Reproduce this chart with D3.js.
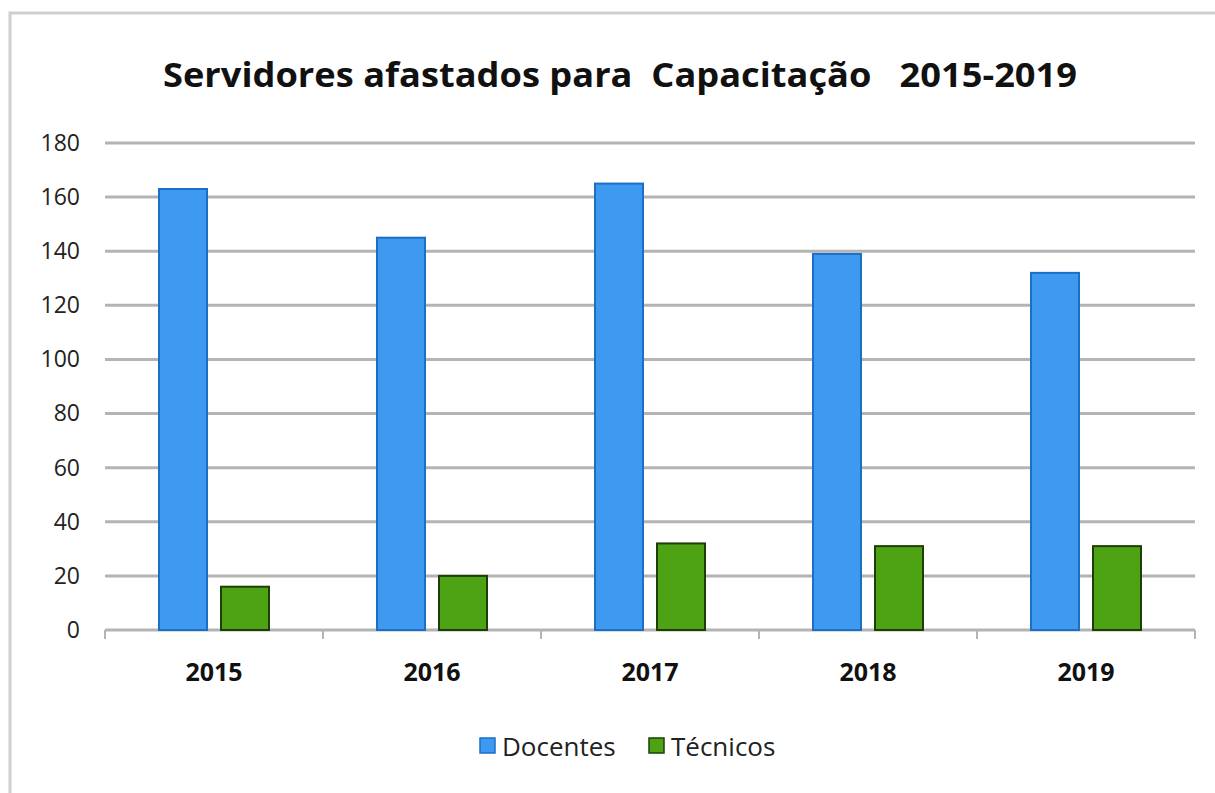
<!DOCTYPE html>
<html>
<head>
<meta charset="utf-8">
<script src="https://cdn.jsdelivr.net/npm/d3@7"></script>
<style>
  body { margin: 0; background: #fff; }
  svg { display: block; }
  .grid line { stroke: #b4b4b4; stroke-width: 3; }
  .y-axis text { font-family: "Open Sans", sans-serif; font-size: 23px; fill: #222; }
  .x-axis text { font-family: "Open Sans", sans-serif; font-size: 25px; font-weight: bold; fill: #111; }
</style>
</head>
<body>
<div id="chart"></div>
<script>
// data
const years = ["2015", "2016", "2017", "2018", "2019"];
const docentes = [163, 145, 165, 139, 132];
const tecnicos = [16, 20, 32, 31, 31];
const seriesNames = ["Docentes", "Técnicos"];
const yTicks = [0, 20, 40, 60, 80, 100, 120, 140, 160, 180];

const W = 1215, H = 793;
const margin = {top: 143, right: 20, bottom: 163, left: 105};
const width = W - margin.left - margin.right;
const height = H - margin.top - margin.bottom;

const svg = d3.select("#chart").append("svg")
    .attr("width", W)
    .attr("height", H);

// outer border
svg.append("rect")
    .attr("x", 10).attr("y", 13)
    .attr("width", W + 20).attr("height", H + 20)
    .attr("fill", "none")
    .attr("stroke", "#cfcfcf")
    .attr("stroke-width", 3);

// title
svg.append("text")
    .attr("x", 620).attr("y", 87)
    .attr("text-anchor", "middle")
    .attr("font-family", "Open Sans, sans-serif")
    .attr("font-weight", "bold")
    .attr("font-size", 34)
    .attr("fill", "#111")
    .attr("textLength", 914)
    .attr("lengthAdjust", "spacingAndGlyphs")
    .attr("xml:space", "preserve")
    .text("Servidores afastados para  Capacitação   2015-2019");

const g = svg.append("g")
    .attr("transform", "translate(" + margin.left + "," + margin.top + ")");

const y = d3.scaleLinear().domain([0, 180]).range([height, 0]);
const x = d3.scaleBand().domain(years).range([0, width]);
const barW = 48, gap = 14;

// gridlines
g.append("g").attr("class", "grid")
    .selectAll("line")
    .data(yTicks.slice(1))
    .join("line")
    .attr("x1", 0).attr("x2", width)
    .attr("y1", d => y(d)).attr("y2", d => y(d));

// y axis labels
const yAxis = d3.axisLeft(y).tickValues(yTicks).tickSize(0).tickPadding(25);
g.append("g").attr("class", "y-axis")
    .call(yAxis)
    .call(s => s.select(".domain").remove());

// x axis baseline + ticks
g.append("line")
    .attr("x1", 0).attr("x2", width)
    .attr("y1", height).attr("y2", height)
    .attr("stroke", "#b4b4b4").attr("stroke-width", 3);
const boundaries = years.map(d => x(d)).concat([width]);
g.selectAll(".xtick")
    .data(boundaries)
    .join("line")
    .attr("class", "xtick")
    .attr("x1", d => d).attr("x2", d => d)
    .attr("y1", height).attr("y2", height + 9)
    .attr("stroke", "#b4b4b4").attr("stroke-width", 2);

const xAxis = d3.axisBottom(x).tickSize(0).tickPadding(33);
g.append("g").attr("class", "x-axis")
    .attr("transform", "translate(0," + height + ")")
    .call(xAxis)
    .call(s => s.select(".domain").remove());

// bars
const center = d => x(d) + x.bandwidth() / 2;
g.selectAll(".bar-doc")
    .data(years)
    .join("rect")
    .attr("class", "bar-doc")
    .attr("x", d => center(d) - gap / 2 - barW)
    .attr("y", (d, i) => y(docentes[i]))
    .attr("width", barW)
    .attr("height", (d, i) => height - y(docentes[i]))
    .attr("fill", "#3d9af0")
    .attr("stroke", "#1b6fc4")
    .attr("stroke-width", 2);

g.selectAll(".bar-tec")
    .data(years)
    .join("rect")
    .attr("class", "bar-tec")
    .attr("x", d => center(d) + gap / 2)
    .attr("y", (d, i) => y(tecnicos[i]))
    .attr("width", barW)
    .attr("height", (d, i) => height - y(tecnicos[i]))
    .attr("fill", "#4ea314")
    .attr("stroke", "#1d3f06")
    .attr("stroke-width", 2);

// legend
const legend = svg.append("g").attr("transform", "translate(480,746)");
const legendColors = [["#3d9af0", "#1b6fc4"], ["#4ea314", "#1d3f06"]];
const legendX = [0, 169];
seriesNames.forEach((name, i) => {
    const lg = legend.append("g").attr("transform", "translate(" + legendX[i] + ",0)");
    lg.append("rect")
        .attr("x", 0).attr("y", -8)
        .attr("width", 15).attr("height", 15)
        .attr("fill", legendColors[i][0])
        .attr("stroke", legendColors[i][1])
        .attr("stroke-width", 1.5);
    lg.append("text")
        .attr("x", 22).attr("y", 10)
        .attr("font-family", "Open Sans, sans-serif")
        .attr("font-size", 26)
        .attr("fill", "#222")
        .text(name);
});
</script>
</body>
</html>
